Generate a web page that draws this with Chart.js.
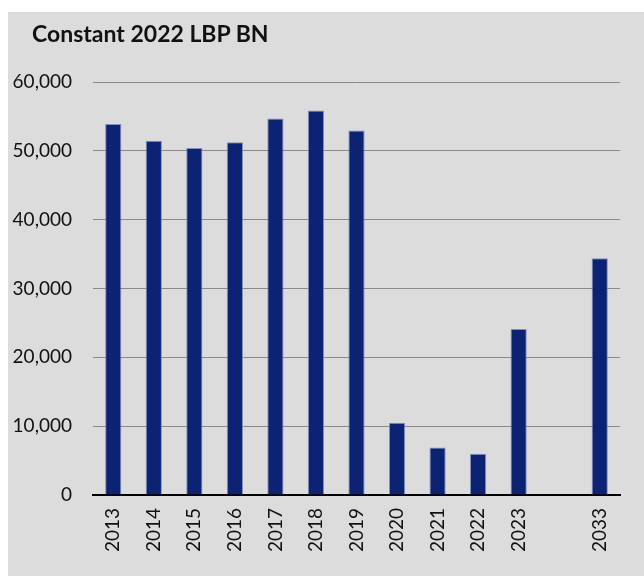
<!DOCTYPE html>
<html>
<head>
<meta charset="utf-8">
<script src="https://cdn.jsdelivr.net/npm/chart.js@4.4.1/dist/chart.umd.min.js"></script>
<style>
    html, body { margin: 0; padding: 0; background: #ffffff; }
    #panel {
        position: absolute; left: 8px; top: 12px;
        width: 636px; height: 564px;
        background: #dcdcdc;
    }
    #title {
        position: absolute; left: 24px; top: 7px;
        font-family: Lato, 'Open Sans', sans-serif;
        font-weight: bold; font-size: 23px; color: #111111;
        white-space: nowrap;
    }
    #chart { position: absolute; left: 0; top: 0; }
</style>
</head>
<body>
<div id="panel">
    <canvas id="chart" width="636" height="564"></canvas>
    <div id="title">Constant 2022 LBP BN</div>
</div>
<script>
// ── Data ─────────────────────────────────────────────
const years = ['2013', '2014', '2015', '2016', '2017', '2018', '2019', '2020', '2021', '2022', '2023', '', '2033'];
const spending = [53900, 51450, 50400, 51250, 54700, 55850, 52950, 10500, 6900, 6000, 24100, null, 34400];
const yTicks = [0, 10000, 20000, 30000, 40000, 50000, 60000];

const font = { family: "Lato, 'Open Sans', sans-serif", size: 19 };

const ctx = document.getElementById('chart').getContext('2d');
new Chart(ctx, {
    type: 'bar',
    data: {
        labels: years,
        datasets: [{
            data: spending,
            backgroundColor: '#0b2372',
            borderColor: 'rgba(120,135,185,0.9)',
            borderWidth: 1,
            borderSkipped: 'bottom',
            barPercentage: 0.4,
            categoryPercentage: 1,
        }],
    },
    options: {
        responsive: false,
        animation: false,
        layout: { padding: { top: 70, right: 24, left: 0, bottom: 0 } },
        plugins: {
            legend: { display: false },
            tooltip: { enabled: false },
        },
        scales: {
            x: {
                grid: { display: false, drawTicks: false },
                border: { display: true, color: '#000000', width: 2 },
                ticks: {
                    color: '#111111', font,
                    minRotation: 90, maxRotation: 90,
                    autoSkip: false, padding: 13,
                },
                afterFit: s => { s.height = 81; },
            },
            y: {
                min: 0, max: 60000,
                afterBuildTicks: s => { s.ticks = yTicks.map(v => ({ value: v })); },
                grid: { color: '#8a8a8a', lineWidth: 1, drawTicks: false },
                border: { display: false },
                ticks: {
                    color: '#111111', font, padding: 21,
                    callback: v => v.toLocaleString('en-US'),
                },
                afterFit: s => { s.width = 85; },
            },
        },
    },
});
</script>
</body>
</html>
